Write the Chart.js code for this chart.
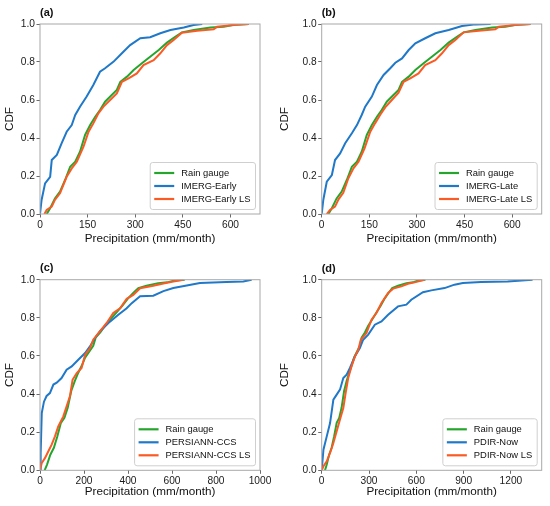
<!DOCTYPE html>
<html>
<head>
<meta charset="utf-8">
<script src="https://cdn.jsdelivr.net/npm/chart.js@4/dist/chart.umd.min.js"></script>
<style>
  html, body { margin: 0; padding: 0; background: #fff; }
  #fig { position: relative; width: 550px; height: 506px; }
  .panel { position: absolute; width: 275px; height: 253px; }
</style>
</head>
<body>
<div id="fig">
  <div class="panel" style="left:0;top:0"><canvas id="pa" width="275" height="253"></canvas></div>
  <div class="panel" style="left:275px;top:0"><canvas id="pb" width="275" height="253"></canvas></div>
  <div class="panel" style="left:0;top:253px"><canvas id="pc" width="275" height="253"></canvas></div>
  <div class="panel" style="left:275px;top:253px"><canvas id="pd" width="275" height="253"></canvas></div>
</div>
<script>
// [precipitation mm/month, CDF] pairs
const rainGauge = [[21,0],[32,0.03],[47,0.082],[63,0.118],[79,0.179],[95,0.249],[111,0.275],[126,0.328],
  [142,0.416],[158,0.468],[174,0.512],[189,0.547],[205,0.591],[226,0.626],[242,0.653],[253,0.696],
  [274,0.723],[295,0.758],[321,0.793],[347,0.828],[374,0.863],[400,0.902],[426,0.933],[447,0.956],
  [484,0.968],[537,0.982],[579,0.986],[611,0.996],[658,1.0]];

const imergEarly = [[0,0],[5,0.074],[16,0.161],[32,0.196],[37,0.284],[53,0.311],[68,0.372],[84,0.433],
  [100,0.468],[111,0.521],[126,0.565],[147,0.618],[168,0.679],[189,0.749],[205,0.767],[232,0.802],
  [258,0.846],[284,0.889],[316,0.925],[347,0.93],[379,0.951],[411,0.968],[453,0.982],[484,0.995],[511,1.0]];

const imergEarlyLS = [[14,0],[21,0.021],[37,0.039],[47,0.074],[63,0.109],[84,0.196],[100,0.24],[116,0.275],
  [137,0.354],[153,0.433],[168,0.477],[184,0.53],[200,0.565],[221,0.6],[242,0.635],[258,0.696],
  [279,0.714],[305,0.74],[326,0.784],[358,0.81],[379,0.846],[400,0.889],[421,0.916],[447,0.954],
  [495,0.965],[547,0.972],[558,0.986],[611,0.995],[658,1.0]];

const imergLate = [[0,0],[5,0.074],[16,0.17],[32,0.205],[42,0.284],[58,0.319],[74,0.372],[95,0.425],
  [111,0.468],[126,0.521],[137,0.565],[158,0.618],[174,0.679],[195,0.732],[216,0.767],[232,0.796],
  [253,0.819],[274,0.863],[295,0.898],[326,0.925],[358,0.951],[400,0.968],[442,0.989],[484,0.998],[532,1.0]];

const imergLateLS = [[16,0],[26,0.021],[42,0.039],[53,0.077],[68,0.112],[84,0.188],[100,0.24],[116,0.275],
  [135,0.346],[153,0.433],[168,0.477],[184,0.521],[200,0.561],[221,0.6],[242,0.639],[258,0.696],
  [279,0.714],[305,0.74],[326,0.784],[358,0.81],[379,0.846],[400,0.889],[421,0.916],[447,0.956],
  [495,0.965],[547,0.972],[558,0.986],[611,0.995],[658,1.0]];

const persiann = [[0,0],[3,0.09],[8,0.3],[18,0.36],[30,0.39],[45,0.405],[61,0.45],[76,0.46],[98,0.484],
  [121,0.528],[144,0.545],[174,0.58],[205,0.615],[227,0.65],[250,0.694],[273,0.73],[318,0.78],
  [356,0.816],[394,0.85],[417,0.877],[455,0.913],[515,0.916],[561,0.94],[606,0.956],[667,0.97],
  [727,0.983],[848,0.988],[924,0.991],[962,1.0]];

const persiannLS = [[0,0],[8,0.038],[23,0.065],[38,0.1],[53,0.135],[68,0.178],[83,0.23],[106,0.283],
  [121,0.336],[136,0.388],[148,0.475],[167,0.51],[189,0.537],[205,0.606],[227,0.64],[242,0.685],
  [273,0.73],[303,0.773],[333,0.825],[364,0.85],[394,0.9],[424,0.92],[455,0.955],[515,0.968],
  [561,0.98],[606,0.99],[652,1.0]];

const pdirNow = [[0,0],[11,0.108],[32,0.178],[53,0.248],[74,0.371],[95,0.397],[116,0.423],[137,0.484],
  [158,0.502],[179,0.537],[211,0.598],[242,0.642],[263,0.685],[295,0.712],[337,0.764],[379,0.781],
  [421,0.816],[484,0.86],[537,0.869],[568,0.895],[642,0.934],[695,0.944],[779,0.956],[842,0.974],
  [895,0.983],[1011,0.988],[1179,0.991],[1337,1.0]];

const pdirNowLS = [[0,0],[11,0.021],[32,0.047],[53,0.091],[74,0.143],[95,0.205],[116,0.266],[137,0.327],
  [152,0.406],[168,0.484],[189,0.545],[211,0.598],[232,0.633],[248,0.685],[284,0.72],[316,0.79],
  [347,0.825],[379,0.878],[421,0.93],[453,0.953],[505,0.965],[547,0.979],[589,0.986],[653,1.0]];

const ticksImerg = [0, 150, 300, 450, 600];
const ticksPersiann = [0, 200, 400, 600, 800, 1000];
const ticksPdir = [0, 300, 600, 900, 1200];
const ticksCdf = [0, 0.2, 0.4, 0.6, 0.8, 1.0];

const GREEN = '#26a52e', BLUE = '#1f78c8', ORANGE = '#fb5a24';
const FONT = '"Liberation Sans", Arial, sans-serif';

const panels = [
  { id: 'pa', letter: '(a)', xMax: 693, xTicks: ticksImerg, area: {l: 40, r: 260, t: 24, b: 214}, letterY: 13,
    series: [['Rain gauge', rainGauge, GREEN], ['IMERG-Early', imergEarly, BLUE], ['IMERG-Early LS', imergEarlyLS, ORANGE]] },
  { id: 'pb', letter: '(b)', xMax: 693, xTicks: ticksImerg, area: {l: 46.7, r: 266.7, t: 24, b: 214}, letterY: 13,
    series: [['Rain gauge', rainGauge, GREEN], ['IMERG-Late', imergLate, BLUE], ['IMERG-Late LS', imergLateLS, ORANGE]] },
  { id: 'pc', letter: '(c)', xMax: 1000, xTicks: ticksPersiann, area: {l: 40, r: 260, t: 26.7, b: 217.3}, letterY: 15,
    series: [['Rain gauge', rainGauge, GREEN], ['PERSIANN-CCS', persiann, BLUE], ['PERSIANN-CCS LS', persiannLS, ORANGE]] },
  { id: 'pd', letter: '(d)', xMax: 1395, xTicks: ticksPdir, area: {l: 46.7, r: 266.7, t: 26.7, b: 217.3}, letterY: 16,
    series: [['Rain gauge', rainGauge, GREEN], ['PDIR-Now', pdirNow, BLUE], ['PDIR-Now LS', pdirNowLS, ORANGE]] }
];

// frame, panel letter and an in-axes legend (bottom right), matplotlib style
const decor = {
  id: 'decor',
  afterDraw(chart, args, opts) {
    const {ctx, chartArea: a} = chart;
    ctx.save();
    ctx.strokeStyle = '#a8a8a8';
    ctx.lineWidth = 1;
    ctx.strokeRect(a.left, a.top, a.right - a.left, a.bottom - a.top);

    ctx.fillStyle = '#111';
    ctx.font = 'bold 11px ' + FONT;
    ctx.textBaseline = 'middle';
    ctx.textAlign = 'left';
    ctx.fillText(opts.letter, a.left, opts.letterY);

    const items = chart.data.datasets;
    ctx.font = '9.4px ' + FONT;
    const textW = Math.max(...items.map(d => ctx.measureText(d.label).width));
    const rowH = 13, pad = 4, handle = 20, gap = 7;
    const w = 4 + handle + gap + textW + 5;
    const h = pad * 2 + rowH * items.length;
    const x = a.right - 4.5 - w, y = a.bottom - 4.5 - h;
    ctx.beginPath();
    ctx.roundRect(x, y, w, h, 2.5);
    ctx.fillStyle = 'rgba(255,255,255,0.85)';
    ctx.fill();
    ctx.strokeStyle = '#cfcfcf';
    ctx.stroke();
    items.forEach((d, i) => {
      const cy = y + pad + rowH * (i + 0.5);
      ctx.beginPath();
      ctx.moveTo(x + 4, cy);
      ctx.lineTo(x + 4 + handle, cy);
      ctx.strokeStyle = d.borderColor;
      ctx.lineWidth = 2.2;
      ctx.stroke();
      ctx.fillStyle = '#111';
      ctx.fillText(d.label, x + 4 + handle + gap, cy + 0.5);
    });
    ctx.restore();
  }
};

panels.forEach(p => {
  const H = 253, W = 275;
  const ctx = document.getElementById(p.id).getContext('2d');
  new Chart(ctx, {
    type: 'line',
    data: {
      datasets: p.series.map(([label, pts, color], i) => ({
        label: label,
        data: pts.map(([x, y]) => ({x: x, y: y})),
        borderColor: color,
        backgroundColor: color,
        borderWidth: 2,
        pointRadius: 0,
        tension: 0,
        fill: false,
        order: 3 - i
      }))
    },
    options: {
      responsive: false,
      maintainAspectRatio: false,
      animation: false,
      events: [],
      layout: { padding: { left: 0, right: W - p.area.r, top: p.area.t, bottom: 0 } },
      plugins: {
        legend: { display: false },
        tooltip: { enabled: false },
        decor: { letter: p.letter, letterY: p.letterY }
      },
      scales: {
        x: {
          type: 'linear',
          min: 0,
          max: p.xMax,
          afterFit: s => { s.height = H - p.area.b; },
          afterBuildTicks: s => { s.ticks = p.xTicks.map(v => ({value: v})); },
          grid: { drawOnChartArea: false, drawTicks: true, tickLength: 3.5, color: '#444', lineWidth: 0.8 },
          border: { display: false },
          ticks: { padding: 1.5, color: '#1a1a1a', font: { family: FONT, size: 10.2 }, maxRotation: 0,
                   callback: v => String(v) },
          title: { display: true, text: 'Precipitation (mm/month)', color: '#111',
                   font: { family: FONT, size: 11.7 }, padding: { top: 0, bottom: 7.6 } }
        },
        y: {
          type: 'linear',
          min: 0,
          max: 1,
          afterFit: s => { s.width = p.area.l; },
          afterBuildTicks: s => { s.ticks = ticksCdf.map(v => ({value: v})); },
          grid: { drawOnChartArea: false, drawTicks: true, tickLength: 3.5, color: '#444', lineWidth: 0.8 },
          border: { display: false },
          ticks: { padding: 1.5, color: '#1a1a1a', font: { family: FONT, size: 10.2 },
                   callback: v => v.toFixed(1) },
          title: { display: true, text: 'CDF', color: '#111',
                   font: { family: FONT, size: 11.7 }, padding: { top: 3, bottom: 0 } }
        }
      }
    },
    plugins: [decor]
  });
});
</script>
</body>
</html>
